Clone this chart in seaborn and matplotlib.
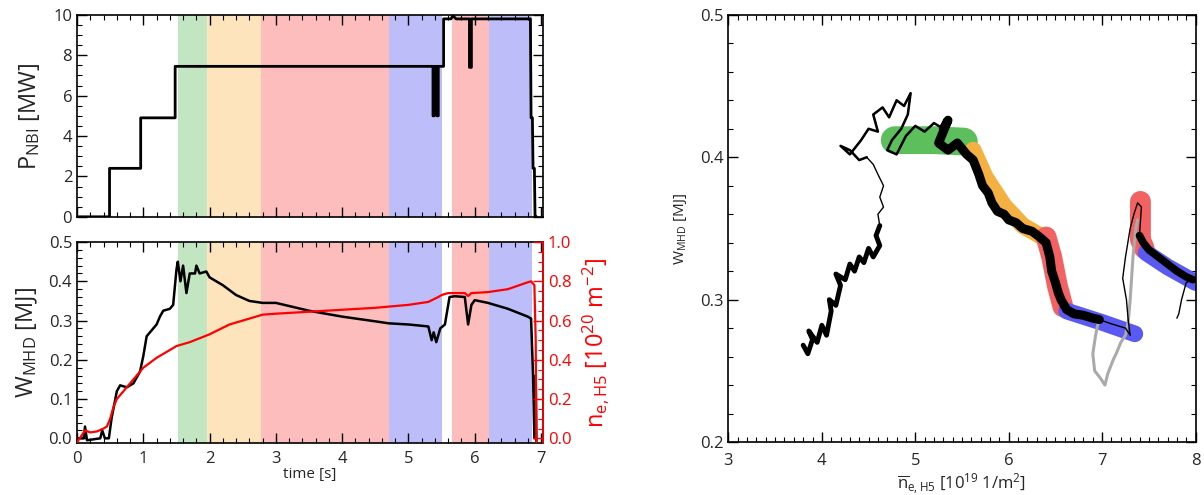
import numpy as np
import pandas as pd
import matplotlib
matplotlib.use("Agg")
import matplotlib.pyplot as plt
import seaborn as sns
from matplotlib.ticker import MultipleLocator

# ---------------- data ----------------
# time phases (shaded bands)
band_start = [1.53, 1.96, 2.78, 4.70, 5.65, 6.21]
band_end   = [1.96, 2.78, 4.70, 5.50, 6.21, 6.87]
band_light = ["#c2e6c2", "#fde4bd", "#fdbdbd", "#bdbdfa", "#fdbdbd", "#bdbdfa"]

# NBI power [MW]
p_time = [0.00, 0.49, 0.49, 0.96, 0.96, 1.48, 1.48, 5.37, 5.37, 5.39, 5.39, 5.43, 5.43, 5.45, 5.45, 5.53,
          5.53, 5.64, 5.67, 5.72, 5.92, 5.92, 5.95, 5.95, 6.84, 6.85, 6.87, 6.88, 6.90, 6.91, 6.92, 6.93]
p_val = [0, 0, 2.4, 2.4, 4.9, 4.9, 7.45, 7.45, 5.0, 5.0, 7.45, 7.45, 5.0, 5.0, 7.45, 7.45,
         9.8, 9.8, 9.95, 9.8, 9.8, 7.4, 7.4, 9.8, 9.8, 4.9, 4.9, 2.4, 2.4, 0, 0, 0]

# stored energy [MJ]
w_time = [0.00, 0.10, 0.12, 0.15, 0.35, 0.38, 0.42, 0.48, 0.52, 0.60, 0.65, 0.75, 0.85, 0.95, 1.00, 1.05,
          1.10, 1.20, 1.25, 1.30, 1.40, 1.45, 1.50, 1.52, 1.56, 1.60, 1.65, 1.70, 1.78, 1.80, 1.85, 1.95,
          2.00, 2.20, 2.40, 2.60, 2.80, 3.00, 3.50, 4.00, 4.50, 4.70, 5.00, 5.30, 5.35, 5.38, 5.42, 5.48,
          5.55, 5.62, 5.70, 5.85, 5.90, 5.95, 6.00, 6.20, 6.50, 6.80, 6.85, 6.88, 6.90, 6.92, 6.93]
w_val = [0.00, 0.00, 0.03, -0.005, 0.00, 0.02, 0.00, 0.00, 0.05, 0.12, 0.135, 0.13, 0.14, 0.17, 0.21, 0.26,
         0.27, 0.29, 0.31, 0.325, 0.33, 0.34, 0.43, 0.45, 0.40, 0.44, 0.37, 0.42, 0.42, 0.44, 0.42, 0.425,
         0.41, 0.39, 0.365, 0.35, 0.345, 0.345, 0.325, 0.31, 0.298, 0.293, 0.29, 0.285, 0.25, 0.27, 0.245, 0.28,
         0.29, 0.36, 0.362, 0.36, 0.29, 0.34, 0.352, 0.345, 0.33, 0.31, 0.305, 0.16, 0.00, 0.16, -0.01]

# line-averaged density [1e20 m^-2]
n_time = [0.00, 0.08, 0.12, 0.20, 0.30, 0.40, 0.45, 0.50, 0.55, 0.60, 0.80, 1.00, 1.20, 1.50, 1.70, 2.00,
          2.30, 2.60, 2.80, 3.00, 3.50, 4.00, 4.50, 5.00, 5.30, 5.45, 5.50, 5.60, 5.85, 5.90, 5.95, 6.20,
          6.50, 6.80, 6.85, 6.90, 6.92, 6.93]
n_val = [-0.02, 0.02, 0.04, 0.03, 0.035, 0.05, 0.06, 0.10, 0.16, 0.20, 0.28, 0.36, 0.41, 0.47, 0.49, 0.53,
         0.58, 0.61, 0.63, 0.635, 0.645, 0.655, 0.665, 0.68, 0.695, 0.72, 0.73, 0.74, 0.74, 0.725, 0.74, 0.745,
         0.76, 0.795, 0.80, 0.78, 0.50, -0.02]

# right panel: W_MHD vs density trajectory
traj_n = [3.80, 3.85, 3.90, 3.86, 3.95, 4.00, 4.05, 4.10, 4.08, 4.15, 4.20, 4.15, 4.25, 4.30, 4.35, 4.40,
          4.45, 4.50, 4.55, 4.62, 4.58, 4.62, 4.60, 4.66, 4.62, 4.66, 4.60, 4.55, 4.48, 4.40, 4.30, 4.20,
          4.30, 4.42, 4.50, 4.60, 4.55, 4.65, 4.72, 4.80, 4.88, 4.95, 4.92, 4.85, 4.75, 4.70, 4.80, 4.90,
          5.00, 5.10, 5.20, 5.30, 5.35, 5.25, 5.35, 5.45, 5.55, 5.62, 5.68, 5.72, 5.78, 5.82, 5.88, 5.95,
          6.00, 6.08, 6.15, 6.25, 6.33, 6.40, 6.44, 6.46, 6.50, 6.53, 6.56, 6.62, 6.70, 6.80, 6.90, 6.97,
          7.10, 7.25, 7.30, 7.28, 7.26, 7.22, 7.25, 7.30, 7.34, 7.38, 7.42, 7.40, 7.44, 7.50, 7.60, 7.70,
          7.80, 7.90, 7.97, 7.90, 7.85, 7.82, 7.80]
traj_w = [0.268, 0.262, 0.272, 0.278, 0.270, 0.282, 0.275, 0.292, 0.300, 0.296, 0.310, 0.318, 0.314, 0.325, 0.320, 0.330,
          0.326, 0.336, 0.330, 0.338, 0.345, 0.352, 0.360, 0.365, 0.372, 0.380, 0.388, 0.395, 0.400, 0.398, 0.405, 0.408,
          0.402, 0.412, 0.420, 0.418, 0.430, 0.435, 0.428, 0.440, 0.436, 0.445, 0.430, 0.420, 0.412, 0.405, 0.402, 0.415,
          0.422, 0.418, 0.424, 0.420, 0.426, 0.410, 0.405, 0.410, 0.402, 0.398, 0.388, 0.380, 0.375, 0.368, 0.362, 0.360,
          0.356, 0.354, 0.350, 0.348, 0.344, 0.340, 0.330, 0.320, 0.312, 0.305, 0.300, 0.293, 0.290, 0.289, 0.287, 0.286,
          0.283, 0.280, 0.275, 0.285, 0.300, 0.315, 0.330, 0.350, 0.360, 0.368, 0.365, 0.345, 0.340, 0.335, 0.330, 0.325,
          0.320, 0.316, 0.314, 0.312, 0.300, 0.290, 0.287]

gray_n = [6.97, 6.93, 6.90, 6.92, 6.98, 7.03, 7.06, 7.12, 7.15, 7.20, 7.25, 7.28, 7.30, 7.33, 7.36, 7.38]
gray_w = [0.288, 0.275, 0.262, 0.250, 0.245, 0.240, 0.248, 0.258, 0.262, 0.270, 0.275, 0.285, 0.300, 0.330, 0.350, 0.356]

# smoothed phase segments in the right panel
seg_names = ["green", "orange", "red", "blue", "red2", "blue2"]
seg_n = [[4.78, 5.20, 5.52],
         [5.62, 5.75, 5.95, 6.15, 6.36],
         [6.40, 6.46, 6.52, 6.58],
         [6.62, 7.00, 7.35],
         [7.41, 7.41, 7.45],
         [7.47, 7.70, 8.00]]
seg_w = [[0.412, 0.412, 0.411],
         [0.405, 0.386, 0.366, 0.352, 0.344],
         [0.344, 0.330, 0.310, 0.295],
         [0.292, 0.284, 0.276],
         [0.369, 0.342, 0.336],
         [0.333, 0.323, 0.312]]
seg_color = ["#5cbf5c", "#f5b042", "#f26262", "#5a5af2", "#f26262", "#5a5af2"]

# ---------------- style ----------------
sns.set_theme(style="ticks")
plt.rcParams["font.family"] = ["Open Sans", "DejaVu Sans"]
plt.rcParams["mathtext.fontset"] = "custom"
plt.rcParams["mathtext.rm"] = "Open Sans"
plt.rcParams["mathtext.it"] = "Open Sans"

fig = plt.figure(figsize=(12.04, 4.95), dpi=100)
ax1 = fig.add_axes([0.064, 0.562, 0.387, 0.408])
ax2 = fig.add_axes([0.064, 0.105, 0.387, 0.406])
ax3 = fig.add_axes([0.605, 0.107, 0.388, 0.863])


def style_ticks(ax, right=True, color="black"):
    ax.tick_params(which="both", direction="in", top=True, right=right, color=color)
    ax.tick_params(which="major", length=7, width=1.0, labelsize=12)
    ax.tick_params(which="minor", length=3.5, width=0.8)
    for s in ax.spines.values():
        s.set_linewidth(1.2)
        s.set_color("black")


for ax in (ax1, ax2):
    for s0, s1, c in zip(band_start, band_end, band_light):
        ax.axvspan(s0, s1, color=c, lw=0, zorder=0)
    ax.set_xlim(0, 7.03)
    ax.xaxis.set_major_locator(MultipleLocator(1))
    ax.xaxis.set_minor_locator(MultipleLocator(0.2))

# top panel
sns.lineplot(x=p_time, y=p_val, sort=False, estimator=None, color="black", lw=2.0, ax=ax1)
ax1.set_ylim(0, 10)
ax1.yaxis.set_major_locator(MultipleLocator(2))
ax1.yaxis.set_minor_locator(MultipleLocator(0.5))
ax1.set_xticklabels([])
ax1.set_ylabel(r"P$_\mathregular{NBI}$ [MW]", fontsize=17, labelpad=8)
style_ticks(ax1)

# bottom panel
sns.lineplot(x=w_time, y=w_val, sort=False, estimator=None, color="black", lw=1.8, ax=ax2)
ax2.set_ylim(-0.012, 0.5)
ax2.yaxis.set_major_locator(MultipleLocator(0.1))
ax2.yaxis.set_minor_locator(MultipleLocator(0.02))
ax2.set_ylabel(r"W$_\mathregular{MHD}$ [MJ]", fontsize=17, labelpad=6)
ax2.set_xlabel("time [s]", fontsize=11, labelpad=0)
style_ticks(ax2, right=False)
ax2.tick_params(axis="x", pad=6)

ax2b = ax2.twinx()
sns.lineplot(x=n_time, y=n_val, sort=False, estimator=None, color="red", lw=1.6, ax=ax2b)
ax2b.set_ylim(-0.024, 1.0)
ax2b.yaxis.set_major_locator(MultipleLocator(0.2))
ax2b.yaxis.set_minor_locator(MultipleLocator(0.05))
ax2b.tick_params(which="both", direction="in", colors="red", labelsize=12)
ax2b.tick_params(which="major", length=7, width=1.0)
ax2b.tick_params(which="minor", length=3.5, width=0.8)
ax2b.spines["right"].set_color("red")
ax2b.spines["right"].set_linewidth(1.2)
for k in ("left", "top", "bottom"):
    ax2b.spines[k].set_visible(False)
ax2b.set_ylabel(r"n$_\mathregular{e,H5}$ [10$^\mathregular{20}$ m$^\mathregular{-2}$]", color="red",
                fontsize=17, labelpad=6)

# right panel
for nn, ww, c, name in zip(seg_n, seg_w, seg_color, seg_names):
    lw = 20 if name == "green" else (15 if name in ("red", "red2") else 12)
    sns.lineplot(x=nn, y=ww, sort=False, estimator=None, color=c, lw=lw, ax=ax3)
    ax3.lines[-1].set_solid_capstyle("round")
    ax3.lines[-1].set_solid_joinstyle("round")
sns.lineplot(x=gray_n, y=gray_w, sort=False, estimator=None, color="#aaaaaa", lw=2.2, ax=ax3)
sns.lineplot(x=traj_n, y=traj_w, sort=False, estimator=None, color="black", lw=1.0, ax=ax3)
# densely-sampled parts of the trajectory appear as thick black bands
thick_parts = [(0, 22, 3.5), (28, 53, 1.8), (51, 80, 6.5), (91, 99, 5.5)]
for i0, i1, lw in thick_parts:
    sns.lineplot(x=traj_n[i0:i1], y=traj_w[i0:i1], sort=False, estimator=None, color="black", lw=lw, ax=ax3)
    ax3.lines[-1].set_solid_joinstyle("round")
    ax3.lines[-1].set_solid_capstyle("round")
ax3.set_xlim(3, 8)
ax3.set_ylim(0.2, 0.5)
ax3.xaxis.set_major_locator(MultipleLocator(1))
ax3.xaxis.set_minor_locator(MultipleLocator(0.1))
ax3.yaxis.set_major_locator(MultipleLocator(0.1))
ax3.yaxis.set_minor_locator(MultipleLocator(0.02))
ax3.set_ylabel(r"W$_\mathregular{MHD}$ [MJ]", fontsize=11, labelpad=8)
ax3.set_xlabel(r"$\overline{\mathregular{n}}_\mathregular{e,H5}$ [10$^\mathregular{19}$ 1/m$^\mathregular{2}$]",
               fontsize=12, labelpad=2)
style_ticks(ax3)
ax3.tick_params(axis="x", pad=8)

fig.savefig("out.png", dpi=100)
